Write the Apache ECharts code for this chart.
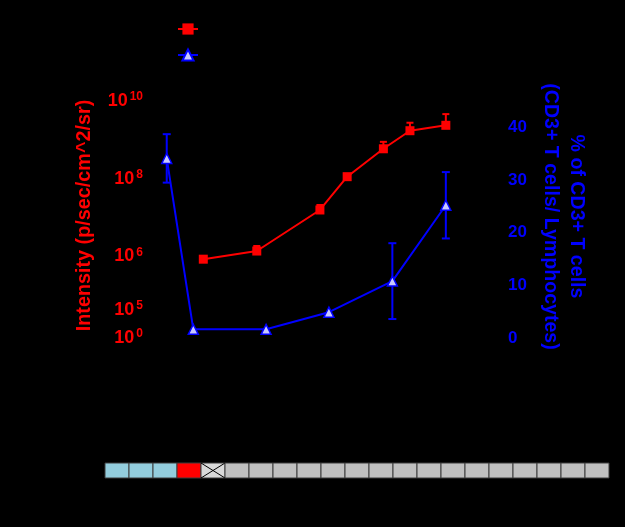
<!DOCTYPE html>
<html>
<head>
<meta charset="utf-8">
<script src="https://cdn.jsdelivr.net/npm/echarts@6/dist/echarts.min.js"></script>
<style>
html,body{margin:0;padding:0;background:#000;}
#chart{width:625px;height:527px;}
</style>
</head>
<body>
<div id="chart"></div>
<script>
// ---- data ----
const seriesNames = ['Bioluminescence', 'CD3+ T cells'];
// Intensity (p/sec/cm^2/sr), red series
const redDays = [14.0, 29.5, 47.8, 55.7, 66.2, 73.9, 84.3];
const redIntensity = [8.9e5, 1.38e6, 1.57e7, 1.13e8, 5.9e8, 1.72e9, 2.37e9];
const redUpper = [null, 1.86e6, 2.11e7, null, 8.9e8, 2.76e9, 4.6e9];
// % of CD3+ T cells, blue series
const blueDays = [3.4, 11.1, 32.2, 50.4, 68.8, 84.3];
const bluePct = [34.1, 1.65, 1.65, 4.9, 10.8, 25.2];
const blueErr = [4.6, null, null, null, 7.2, 6.3];
// axis tick labels
const leftTickExps = [0, 5, 6, 8, 10];
const rightTicks = [0, 10, 20, 30, 40];
// timeline strip cells
const stripCells = ['pre','pre','pre','tx','x',
  'off','off','off','off','off','off','off','off','off','off','off','off','off','off','off','off'];

// ---- broken log scale for the left axis (exponent -> axis units) ----
function toAxis(v) {
  const e = Math.log10(v);
  if (e < 5) return e * 0.236;
  if (e < 6) return 1.18 + (e - 5) * 2.26;
  return 3.44 + (e - 6) * 1.64;
}
function expToAxis(e) { return toAxis(Math.pow(10, e)); }
const leftTickVals = leftTickExps.map(expToAxis);

const RED = '#ff0000', BLUE = '#0000ff';
const cellColors = { pre: '#93cddd', tx: '#ff0000', x: '#d9d9d9', off: '#c0c0c0' };

const redData = redDays.map((d, i) => [d, toAxis(redIntensity[i])]);
const redErrData = [];
redDays.forEach((d, i) => { if (redUpper[i] != null) redErrData.push([d, toAxis(redIntensity[i]), toAxis(redUpper[i])]); });
const blueData = blueDays.map((d, i) => [d, bluePct[i]]);
const blueErrData = [];
blueDays.forEach((d, i) => { if (blueErr[i] != null) blueErrData.push([d, bluePct[i] - blueErr[i], bluePct[i] + blueErr[i]]); });

function errRender(capHalf, color) {
  return function (params, api) {
    const x = api.value(0);
    const lo = api.coord([x, api.value(1)]);
    const hi = api.coord([x, api.value(2)]);
    const st = { stroke: color, lineWidth: 2 };
    const children = [
      { type: 'line', shape: { x1: lo[0], y1: lo[1], x2: hi[0], y2: hi[1] }, style: st },
      { type: 'line', shape: { x1: hi[0] - capHalf, y1: hi[1], x2: hi[0] + capHalf, y2: hi[1] }, style: st }
    ];
    if (params.seriesName === 'blueErr') {
      children.push({ type: 'line', shape: { x1: lo[0] - capHalf, y1: lo[1], x2: lo[0] + capHalf, y2: lo[1] }, style: st });
    }
    return { type: 'group', children };
  };
}

const chart = echarts.init(document.getElementById('chart'), null, { renderer: 'canvas' });
const option = {
  backgroundColor: '#000',
  animation: false,
  textStyle: { fontFamily: '"Liberation Sans", Arial, sans-serif' },
  legend: {
    orient: 'vertical', left: 172, top: 17, itemWidth: 20, itemHeight: 14, itemGap: 12,
    data: seriesNames,
    textStyle: { color: '#000', fontSize: 12, lineHeight: 14 }
  },
  grid: [
    { left: 155, top: 101, width: 345, height: 237 },
    { left: 105, top: 463, width: 504, height: 15 }
  ],
  xAxis: [
    { type: 'value', gridIndex: 0, min: 0, max: 100, show: false },
    { type: 'category', gridIndex: 1, data: stripCells.map((c, i) => i), show: false }
  ],
  yAxis: [
    {
      type: 'value', gridIndex: 0, min: 0, max: 10,
      name: 'Intensity (p/sec/cm^2/sr)', nameLocation: 'middle', nameRotate: 90, nameGap: 60,
      nameTextStyle: { color: RED, fontSize: 19.8, fontWeight: 'bold', padding: [0, 0, 0, 8] },
      axisLine: { show: false }, axisTick: { show: false }, splitLine: { show: false },
      axisLabel: {
        customValues: leftTickVals, margin: 12,
        formatter: function (v) {
          let best = 0;
          leftTickVals.forEach((t, i) => { if (Math.abs(t - v) < Math.abs(leftTickVals[best] - v)) best = i; });
          return '{b|10}{s|' + leftTickExps[best] + '}';
        },
        rich: {
          b: { color: RED, fontSize: 18, fontWeight: 'bold', lineHeight: 20 },
          s: { color: RED, fontSize: 12, fontWeight: 'bold', lineHeight: 12, padding: [0, 0, 8, 2] }
        }
      }
    },
    {
      type: 'value', gridIndex: 0, min: 0, max: 45, position: 'right',
      name: '% of CD3+ T cells\n(CD3+ T cells/ Lymphocytes)', nameLocation: 'middle', nameRotate: -90, nameGap: 27,
      nameTextStyle: { color: BLUE, fontSize: 19.6, fontWeight: 'bold', lineHeight: 26, padding: [0, 6, 0, 0] },
      axisLine: { show: false }, axisTick: { show: false }, splitLine: { show: false },
      axisLabel: { customValues: rightTicks, color: BLUE, fontSize: 17, fontWeight: 'bold', margin: 8 }
    },
    { type: 'value', gridIndex: 1, min: 0, max: 1, show: false }
  ],
  series: [
    {
      name: 'redErr', type: 'custom', xAxisIndex: 0, yAxisIndex: 0, z: 1,
      renderItem: errRender(3.5, RED), data: redErrData
    },
    {
      name: 'blueErr', type: 'custom', xAxisIndex: 0, yAxisIndex: 1, z: 1,
      renderItem: errRender(4, BLUE), data: blueErrData
    },
    {
      name: seriesNames[0], type: 'line', xAxisIndex: 0, yAxisIndex: 0, z: 3,
      data: redData, symbol: 'rect', symbolSize: 9,
      lineStyle: { color: RED, width: 2 }, itemStyle: { color: RED }
    },
    {
      name: seriesNames[1], type: 'line', xAxisIndex: 0, yAxisIndex: 1, z: 4,
      data: blueData, symbol: 'triangle', symbolSize: 10,
      lineStyle: { color: BLUE, width: 2 },
      itemStyle: { color: '#c8c8ff', borderColor: BLUE, borderWidth: 1.5 }
    },
    {
      name: 'strip', type: 'custom', xAxisIndex: 1, yAxisIndex: 2,
      data: stripCells.map((c, i) => [i, 1]),
      renderItem: function (params, api) {
        const i = api.value(0);
        const c = api.coord([i, 1]);
        const sz = api.size([1, 1]);
        const x0 = c[0] - sz[0] / 2, y0 = c[1];
        const kind = stripCells[i];
        const children = [{
          type: 'rect', shape: { x: x0, y: y0, width: sz[0], height: sz[1] },
          style: { fill: cellColors[kind], stroke: '#3c3c3c', lineWidth: 1 }
        }];
        if (kind === 'x') {
          const st = { stroke: '#000', lineWidth: 1 };
          children.push({ type: 'line', shape: { x1: x0, y1: y0, x2: x0 + sz[0], y2: y0 + sz[1] }, style: st });
          children.push({ type: 'line', shape: { x1: x0, y1: y0 + sz[1], x2: x0 + sz[0], y2: y0 }, style: st });
        }
        return { type: 'group', children };
      }
    }
  ]
};
chart.setOption(option);
</script>
</body>
</html>
